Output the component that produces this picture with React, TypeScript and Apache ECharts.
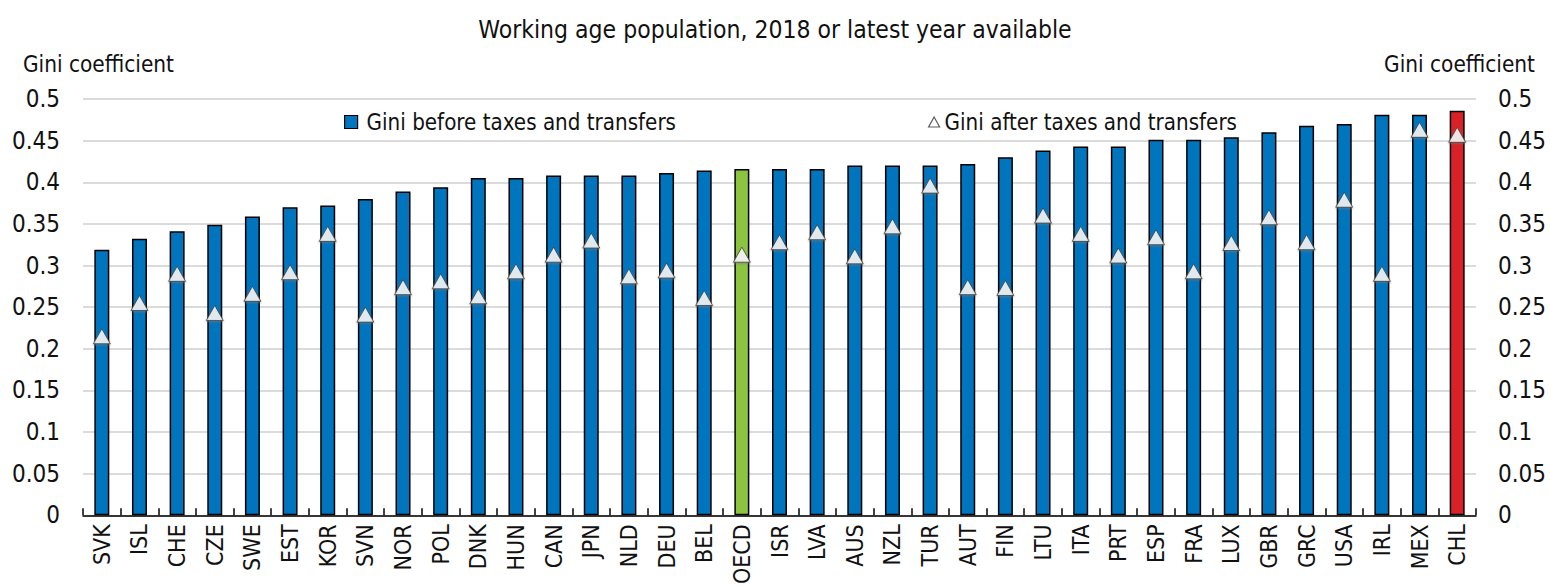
import React, { useEffect, useRef } from "react";
import * as echarts from "echarts";

const categories = [
  "SVK", "ISL", "CHE", "CZE", "SWE", "EST", "KOR", "SVN", "NOR", "POL",
  "DNK", "HUN", "CAN", "JPN", "NLD", "DEU", "BEL", "OECD", "ISR", "LVA",
  "AUS", "NZL", "TUR", "AUT", "FIN", "LTU", "ITA", "PRT", "ESP", "FRA",
  "LUX", "GBR", "GRC", "USA", "IRL", "MEX", "CHL",
];

const giniBefore = [
  0.319, 0.332, 0.341, 0.349, 0.359, 0.370, 0.372, 0.380, 0.389, 0.394,
  0.405, 0.405, 0.408, 0.408, 0.408, 0.411, 0.414, 0.416, 0.416, 0.416,
  0.420, 0.420, 0.420, 0.422, 0.430, 0.438, 0.443, 0.443, 0.451, 0.451,
  0.454, 0.460, 0.468, 0.470, 0.481, 0.481, 0.486,
];

const giniAfter = [
  0.215, 0.255, 0.290, 0.243, 0.266, 0.292, 0.338, 0.241, 0.274, 0.281,
  0.263, 0.293, 0.313, 0.330, 0.287, 0.294, 0.261, 0.313, 0.328, 0.340,
  0.311, 0.347, 0.396, 0.274, 0.273, 0.360, 0.338, 0.312, 0.334, 0.293,
  0.327, 0.358, 0.328, 0.379, 0.290, 0.463, 0.457,
];

const highlightColors: Record<string, string> = {
  OECD: "#8CC43F",
  CHL: "#DA2128",
};

const TITLE = "Working age population, 2018 or latest year available";
const Y_NAME = "Gini coefficient";
const SERIES_BEFORE = "Gini before taxes and transfers";
const SERIES_AFTER = "Gini after taxes and transfers";

const FONT = '"DejaVu Sans Condensed", "Liberation Sans", sans-serif';
const BLUE = "#0075BE";
const TEXT = "#111111";

export default function App() {
  const ref = useRef<HTMLDivElement>(null);

  useEffect(() => {
    document.body.style.margin = "0";
    if (!ref.current) return;
    const chart = echarts.init(ref.current, undefined, { renderer: "svg" });

    const barData = categories.map((c, i) => ({
      value: giniBefore[i],
      itemStyle: highlightColors[c] ? { color: highlightColors[c] } : undefined,
    }));

    const fmt = (v: number) => String(+v.toFixed(2));

    chart.setOption({
      animation: false,
      backgroundColor: "#ffffff",
      textStyle: { fontFamily: FONT, color: TEXT },
      title: {
        text: TITLE,
        left: "center",
        top: 12,
        textStyle: { fontFamily: FONT, fontSize: 24.5, fontWeight: "normal", color: TEXT },
      },
      legend: [
        {
          data: [
            {
              name: SERIES_BEFORE,
              icon: "rect",
              itemStyle: { color: BLUE, borderColor: "#000000", borderWidth: 1.2 },
            },
          ],
          left: 339,
          top: 106,
          itemWidth: 13,
          itemHeight: 13,
          textStyle: { fontFamily: FONT, fontSize: 22.2, color: TEXT, padding: [0, 0, 0, 4] },
        },
        {
          data: [
            {
              name: SERIES_AFTER,
              icon: "triangle",
              itemStyle: { color: "#ffffff", borderColor: "#333333", borderWidth: 1.2 },
            },
          ],
          left: 923,
          top: 106,
          itemWidth: 11,
          itemHeight: 10,
          textStyle: { fontFamily: FONT, fontSize: 22.2, color: TEXT },
        },
      ],
      grid: { left: 83, right: 74, top: 99, bottom: 71, containLabel: false },
      xAxis: {
        type: "category",
        data: categories,
        boundaryGap: true,
        axisLine: { lineStyle: { color: "#000000", width: 1.5 } },
        axisTick: { show: true, inside: true, length: 7, lineStyle: { color: "#000000", width: 1.5 } },
        axisLabel: {
          rotate: 90,
          interval: 0,
          margin: 9,
          fontFamily: FONT,
          fontSize: 23,
          color: TEXT,
        },
      },
      yAxis: [
        {
          type: "value",
          min: 0,
          max: 0.5,
          interval: 0.05,
          position: "left",
          axisLine: { show: false },
          axisTick: { show: false },
          splitLine: { lineStyle: { color: "#cfcfcf", width: 1.5 } },
          axisLabel: { formatter: fmt, fontFamily: FONT, fontSize: 24, color: TEXT, margin: 23 },
        },
        {
          type: "value",
          min: 0,
          max: 0.5,
          interval: 0.05,
          position: "right",
          axisLine: { show: false },
          axisTick: { show: false },
          splitLine: { show: false },
          axisLabel: { formatter: fmt, fontFamily: FONT, fontSize: 24, color: TEXT, margin: 22 },
        },
      ],
      series: [
        {
          name: SERIES_BEFORE,
          type: "bar",
          data: barData,
          barWidth: 15,
          itemStyle: { color: BLUE, borderColor: "#000000", borderWidth: 1.5 },
          z: 2,
        },
        {
          name: SERIES_AFTER,
          type: "scatter",
          data: giniAfter,
          symbol: "triangle",
          symbolSize: [17, 15],
          itemStyle: {
            color: "#ffffff",
            borderColor: "#222222",
            borderWidth: 0.8,
            shadowColor: "rgba(120,120,120,0.8)",
            shadowBlur: 2,
            shadowOffsetY: 1,
          },
          z: 3,
        },
      ],
      graphic: [
        {
          type: "text",
          left: 23,
          top: 53,
          style: { text: Y_NAME, font: `22.4px ${FONT}`, fill: TEXT },
        },
        {
          type: "text",
          right: 15,
          top: 53,
          style: { text: Y_NAME, font: `22.4px ${FONT}`, fill: TEXT },
        },
      ],
    });

    return () => chart.dispose();
  }, []);

  return <div ref={ref} style={{ width: 1550, height: 587 }} />;
}
